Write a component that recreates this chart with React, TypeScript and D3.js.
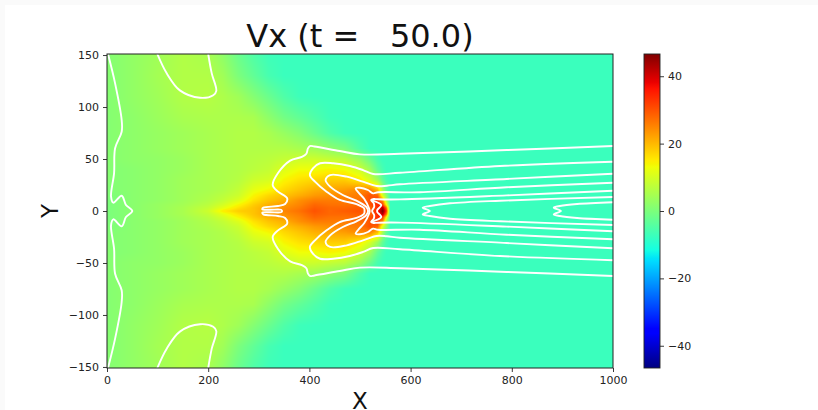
import { useEffect, useRef } from "react";
import * as d3 from "d3";

const width = 818, height = 410;
const plot = { left: 107, right: 613, top: 54, bottom: 368 };
const bar = { left: 644, right: 660 };

const vMax = 46.6;
const BG = -7.4;

// Vx, upper half only (y >= 0); the run is mirror symmetric in y
const gridX = [0, 20, 50, 100, 150, 200, 230, 260, 290, 320, 350, 380, 410, 440, 470, 500, 520, 535, 545, 552, 560, 580, 600, 1000];
const gridY = [0, 3, 6, 10, 15, 20, 30, 40, 50, 60, 75, 90, 110, 130, 151];
const gridV = [
  [0, 0.5, 1.5, 3, 5, 9, 15, 18, 19, 22, 25, 27, 30, 28, 29, 30, 28, 36, 47, 34, BG, BG, BG, BG],
  [0, 0.5, 1.5, 3, 5, 8, 12, 16, 19, 22, 24, 26, 29, 28, 28, 29, 28, 34, 43, 28, BG, BG, BG, BG],
  [0, 0.5, 1.5, 3, 4.5, 7, 10, 14, 18, 21, 23, 25, 28, 27, 27, 28, 30, 34, 32, 14, BG, BG, BG, BG],
  [0, 0.5, 1.5, 2.5, 4, 6, 8, 11, 16, 19, 21, 24, 26, 26, 26, 27, 30, 33, 24, 6, BG, BG, BG, BG],
  [0.5, 0.5, 1.5, 2.5, 4, 5.5, 7, 9, 14, 17, 19, 21, 23, 24, 25, 26, 30, 28, 10, 2, BG, BG, BG, BG],
  [0.5, 1, 1.5, 2.5, 4, 5, 6, 8, 12, 14, 17, 19, 21, 22, 23, 25, 26, 20, 5, -3, BG, BG, BG, BG],
  [1, 1, 1.5, 2.5, 4, 5, 5.5, 6.5, 9, 10, 14, 16, 17, 18, 18, 15, 10, 4, -3, -6, BG, BG, BG, BG],
  [1, 1, 1.5, 2.5, 3.5, 5, 5.5, 6, 7, 8, 11, 13, 13, 14, 13, 9, 4, -3, -6, BG, BG, BG, BG, BG],
  [1, 1.5, 2, 2.5, 3.5, 5, 5.5, 6, 6.5, 7, 8, 9, 9, 8, 7, 3, -2, -6, BG, BG, BG, BG, BG, BG],
  [1, 1.5, 2, 3, 4, 5, 5.5, 6, 6, 6, 6, 5, 4, 2, 0, -5, BG, BG, BG, BG, BG, BG, BG, BG],
  [1, 1.5, 2, 3, 4, 5, 5.5, 6, 6, 5, 3, 1, -2, -5, -7, BG, BG, BG, BG, BG, BG, BG, BG, BG],
  [1, 1.5, 2, 3.5, 5, 5.5, 5.5, 5.5, 5, 2, -1, -3, -5, -7, BG, BG, BG, BG, BG, BG, BG, BG, BG, BG],
  [1, 1.5, 2.5, 4, 6, 6.5, 5.5, 4, 1, -2, -5, -7, BG, BG, BG, BG, BG, BG, BG, BG, BG, BG, BG, BG],
  [1, 1.5, 2.5, 4.5, 6, 6, 4, 0, -3, -6, BG, BG, BG, BG, BG, BG, BG, BG, BG, BG, BG, BG, BG, BG],
  [1, 1.5, 2.5, 4, 6, 5, 2, -2, -5, -7, BG, BG, BG, BG, BG, BG, BG, BG, BG, BG, BG, BG, BG, BG],
];

// white contour lines, upper half, each ends on y = 0 where it meets its mirror image
const contourA = [[1000, 62.5], [790, 58.6], [579, 55], [500, 54.5], [460, 57.7], [410, 62], [401, 62.5], [397, 60], [394, 55], [385, 52], [362, 48.4], [338, 36.5], [327.5, 25], [338, 18.6], [356, 12.2], [352, 6.7], [338, 4.8], [309, 3.2], [307, 1.6], [322, 1.2], [344, 1.2], [346, 0]];
const contourB = [[1000, 47.4], [777, 43.3], [579, 36.8], [526, 35.6], [506, 39.4], [480, 43.3], [447, 45.9], [421, 45.9], [407, 41], [401, 34.6], [411, 28.2], [434, 18.6], [460, 10.6], [493, 6.7], [508, 2.6], [509, 0]];
const contourC = [[1000, 35.9], [790, 30.8], [579, 25.7], [553, 24.3], [533, 24], [506, 28.2], [474, 33], [441, 34.6], [432, 29.8], [441, 23.4], [466, 15.4], [493, 9.9], [512, 4.1], [516, 0]];
const contourD = [[1000, 27.2], [790, 22.8], [618, 18], [535.6, 18], [525.7, 17], [515.8, 20.2], [500, 22.4], [491.5, 21.8], [496.6, 18], [508.5, 11.5], [517.8, 2.6], [519, 0]];
const contourE = [[1000, 19.5], [790, 15], [579, 11.2], [535, 11.3], [527, 11.5], [522, 10.5], [527, 7.5], [528, 4], [524, 0]];
const contourF = [[1000, 13.5], [777, 9.9], [678, 7.4], [638, 4.8], [624, 3.2], [638, 0]];
const contourG = [[1000, 8.4], [929, 6.7], [895, 4.8], [883, 3.2], [897, 0]];
const contourStar = [[522, 10.5], [542, 5.8], [534, 1], [534, 0]];
const contourEdge = [[2, 151], [16, 122.8], [29, 87.5], [29, 76.2], [16, 60.3], [14, 36.5], [8, 13.8], [12.5, 8], [29, 14.7], [37.5, 5.8], [50, 0]];
const archTop = [[99.4, 151], [118, 132.4], [144, 116], [184, 108.9], [210, 111.4], [216, 115.6], [207, 132.4], [200, 151]];

const closedOnAxis = [contourA, contourB, contourC, contourD, contourE, contourF, contourG, contourStar, contourEdge];

const xTicks = [0, 200, 400, 600, 800, 1000];
const yTicks = [-150, -100, -50, 0, 50, 100, 150];
const barTicks = [-40, -20, 0, 20, 40];

// matplotlib's jet, as stops of the colormap
const jetStops = [0, 0.11, 0.125, 0.34, 0.35, 0.375, 0.64, 0.65, 0.66, 0.89, 0.91, 1];
const jetColors = ["#000080", "#0000ff", "#0000ff", "#00dbff", "#00e5f8", "#14ffe3", "#f0ff07", "#f7f500", "#ffed00", "#ff1100", "#eb0000", "#800000"];

const x = d3.scaleLinear().domain([0, 1000]).range([plot.left, plot.right]);
const y = d3.scaleLinear().domain([-151, 151]).range([plot.bottom, plot.top]);
const t = d3.scaleLinear().domain([-vMax, vMax]).range([0, 1]).clamp(true);
const barY = d3.scaleLinear().domain([-vMax, vMax]).range([plot.bottom, plot.top]);
const jet = d3.scaleLinear<string>().domain(jetStops).range(jetColors);
const color = (v: number) => jet(t(v));

const line = d3.line().x((d) => x(d[0])).y((d) => y(d[1])).curve(d3.curveCatmullRom.alpha(0.5));

const mirrored = (pts: number[][]) => {
  const lower = pts.slice(0, -1).reverse().map((p) => [p[0], -p[1]]);
  return [...pts, ...lower];
};

// value at a data position, bilinear between the table's nodes (like shading="gouraud")
const sampleField = (px: number, py: number) => {
  const ay = Math.abs(py);
  const i = Math.min(d3.bisectRight(gridX, px) - 1, gridX.length - 2);
  const j = Math.min(d3.bisectRight(gridY, ay) - 1, gridY.length - 2);
  const u = Math.max(0, Math.min(1, (px - gridX[i]) / (gridX[i + 1] - gridX[i])));
  const w = Math.max(0, Math.min(1, (ay - gridY[j]) / (gridY[j + 1] - gridY[j])));
  const a = gridV[j][i] * (1 - u) + gridV[j][i + 1] * u;
  const b = gridV[j + 1][i] * (1 - u) + gridV[j + 1][i + 1] * u;
  return a * (1 - w) + b * w;
};

const fontFamily = "'DejaVu Sans'";

export default function App() {
  const svgRef = useRef<SVGSVGElement>(null);

  useEffect(() => {
    const svg = d3.select(svgRef.current);
    svg.selectAll("*").remove();

    svg.append("rect").attr("width", width).attr("height", 5).attr("fill", "#fafafa");
    svg.append("rect").attr("width", 5).attr("height", height).attr("fill", "#fafafa");

    // heat field painted to a canvas and placed in the svg
    const w = plot.right - plot.left, h = plot.bottom - plot.top;
    const canvas = document.createElement("canvas");
    canvas.width = w;
    canvas.height = h;
    const ctx = canvas.getContext("2d")!;
    const img = ctx.createImageData(w, h);
    for (let row = 0; row < h; row++) {
      for (let col = 0; col < w; col++) {
        const c = d3.rgb(color(sampleField(x.invert(plot.left + col + 0.5), y.invert(plot.top + row + 0.5))));
        const k = (row * w + col) * 4;
        img.data[k] = c.r;
        img.data[k + 1] = c.g;
        img.data[k + 2] = c.b;
        img.data[k + 3] = 255;
      }
    }
    ctx.putImageData(img, 0, 0);
    svg.append("image")
      .attr("x", plot.left).attr("y", plot.top)
      .attr("width", w).attr("height", h)
      .attr("href", canvas.toDataURL());

    const clipId = "plot-clip";
    svg.append("clipPath").attr("id", clipId).append("rect")
      .attr("x", plot.left).attr("y", plot.top).attr("width", w).attr("height", h);

    const lines = [
      ...closedOnAxis.map(mirrored),
      archTop,
      archTop.map((p) => [p[0], -p[1]]),
    ];
    svg.append("g").attr("clip-path", `url(#${clipId})`)
      .selectAll("path").data(lines).join("path")
      .attr("d", (d) => line(d as [number, number][]))
      .attr("fill", "none").attr("stroke", "white").attr("stroke-width", 1.9);

    svg.append("rect")
      .attr("x", plot.left).attr("y", plot.top).attr("width", w).attr("height", h)
      .attr("fill", "none").attr("stroke", "#222").attr("stroke-width", 1);

    const styleAxis = (g: any) => {
      g.select(".domain").remove();
      g.selectAll("line").attr("stroke", "#222").attr("stroke-width", 0.9);
      g.selectAll("text").attr("font-family", fontFamily).attr("font-size", 11).attr("fill", "#222");
    };

    svg.append("g").attr("transform", `translate(0,${plot.bottom})`)
      .call(d3.axisBottom(x).tickValues(xTicks).tickSize(4).tickPadding(4).tickFormat(d3.format("d")) as any)
      .call(styleAxis);
    svg.append("g").attr("transform", `translate(${plot.left},0)`)
      .call(d3.axisLeft(y).tickValues(yTicks).tickSize(4).tickPadding(4).tickFormat(d3.format("d")) as any)
      .call(styleAxis);

    // colorbar, a vertical gradient through the same color function
    const gradient = svg.append("linearGradient").attr("id", "jet-bar")
      .attr("x1", 0).attr("y1", 1).attr("x2", 0).attr("y2", 0);
    gradient.selectAll("stop").data(jetStops).join("stop")
      .attr("offset", (d) => d)
      .attr("stop-color", (d, i) => jetColors[i]);
    svg.append("rect")
      .attr("x", bar.left).attr("y", plot.top).attr("width", bar.right - bar.left).attr("height", h)
      .attr("fill", "url(#jet-bar)").attr("stroke", "#222").attr("stroke-width", 0.9);
    svg.append("g").attr("transform", `translate(${bar.right},0)`)
      .call(d3.axisRight(barY).tickValues(barTicks).tickSize(4).tickPadding(4).tickFormat(d3.format("d")) as any)
      .call(styleAxis);

    svg.append("text")
      .attr("x", 360).attr("y", 47).attr("text-anchor", "middle")
      .attr("font-family", fontFamily).attr("font-size", 32).attr("fill", "#111")
      .style("white-space", "pre")
      .text("Vx (t =   50.0)");
    svg.append("text")
      .attr("x", 360).attr("y", 408.5).attr("text-anchor", "middle")
      .attr("font-family", fontFamily).attr("font-size", 23).attr("fill", "#111")
      .text("X");
    svg.append("text")
      .attr("transform", "translate(58,211) rotate(-90)").attr("text-anchor", "middle")
      .attr("font-family", fontFamily).attr("font-size", 23).attr("fill", "#111")
      .text("Y");
  }, []);

  return (
    <svg
      ref={svgRef}
      width={width}
      height={height}
      style={{ position: "absolute", left: 0, top: 0, background: "white" }}
    />
  );
}
